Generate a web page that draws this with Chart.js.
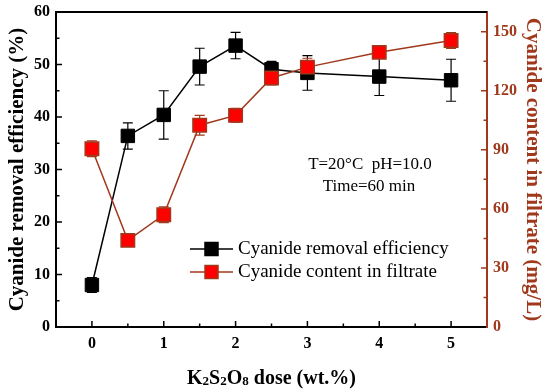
<!DOCTYPE html>
<html>
<head>
<meta charset="utf-8">
<script src="https://cdn.jsdelivr.net/npm/chart.js@4.4.0/dist/chart.umd.min.js"></script>
<style>
  html, body { margin: 0; padding: 0; background: #fff; }
  #wrap { width: 550px; height: 389px; }
</style>
</head>
<body>
<div id="wrap"><canvas id="chart" width="550" height="389"></canvas></div>
<script>
'use strict';

// ── data ──
const doses = [0, 0.5, 1, 1.5, 2, 2.5, 3, 4, 5];
const removal = [8.0, 36.4, 40.4, 49.6, 53.6, 49.1, 48.4, 47.7, 47.0];
const removalErr = [1.4, 2.5, 4.6, 3.5, 2.5, 1.5, 3.3, 3.6, 4.0];
const content = [90.5, 44.0, 57.0, 102.5, 107.5, 126.5, 132.0, 139.5, 145.5];
const contentErr = [4.0, 2.5, 4.0, 5.0, 3.5, 3.5, 4.5, 3.0, 4.0];
const xTicks = [0, 1, 2, 3, 4, 5];
const leftTicks = [0, 10, 20, 30, 40, 50, 60];
const rightTicks = [0, 30, 60, 90, 120, 150];

const BROWN = '#a0381c';
const SERIF = "'Liberation Serif', 'Times New Roman', serif";

const pts = (ys) => doses.map((x, i) => ({ x, y: ys[i] }));

// error bars, drawn behind the markers
const errorBars = {
  id: 'errorBars',
  beforeDatasetsDraw(chart) {
    const ctx = chart.ctx;
    const xs = chart.scales.x;
    const sets = [
      { vals: removal, err: removalErr, scale: chart.scales.y, color: '#000' },
      { vals: content, err: contentErr, scale: chart.scales.y1, color: BROWN }
    ];
    ctx.save();
    ctx.lineWidth = 1.2;
    sets.forEach(s => {
      ctx.strokeStyle = s.color;
      doses.forEach((d, i) => {
        const px = xs.getPixelForValue(d);
        const top = s.scale.getPixelForValue(s.vals[i] + s.err[i]);
        const bot = s.scale.getPixelForValue(s.vals[i] - s.err[i]);
        ctx.beginPath();
        ctx.moveTo(px, top); ctx.lineTo(px, bot);
        ctx.moveTo(px - 5, top); ctx.lineTo(px + 5, top);
        ctx.moveTo(px - 5, bot); ctx.lineTo(px + 5, bot);
        ctx.stroke();
      });
    });
    ctx.restore();
  }
};

// inward ticks, top frame line, legend, notes and x title
const decor = {
  id: 'decor',
  afterDraw(chart) {
    const ctx = chart.ctx;
    const a = chart.chartArea;
    const xs = chart.scales.x, yl = chart.scales.y, yr = chart.scales.y1;
    ctx.save();

    // top frame
    ctx.strokeStyle = '#000';
    ctx.lineWidth = 2;
    ctx.beginPath(); ctx.moveTo(a.left, a.top); ctx.lineTo(a.right, a.top); ctx.stroke();
    ctx.lineWidth = 1.5;

    ctx.beginPath();
    for (let v = 0; v <= 5.0001; v += 0.5) {
      const px = xs.getPixelForValue(v);
      const len = Number.isInteger(v) ? 6 : 3.5;
      ctx.moveTo(px, a.bottom); ctx.lineTo(px, a.bottom - len);
    }
    for (let v = 5; v < 60; v += 5) {
      const py = yl.getPixelForValue(v);
      const len = v % 10 === 0 ? 6 : 3.5;
      ctx.moveTo(a.left, py); ctx.lineTo(a.left + len, py);
    }
    ctx.stroke();

    ctx.strokeStyle = BROWN;
    ctx.beginPath();
    for (let v = 15; v <= 150; v += 15) {
      const py = yr.getPixelForValue(v);
      const len = v % 30 === 0 ? 6 : 3.5;
      ctx.moveTo(a.right, py); ctx.lineTo(a.right - len, py);
    }
    ctx.stroke();

    // legend
    const items = [
      { label: 'Cyanide removal efficiency', line: '#000', fill: '#000', edge: '#000', y: 249 },
      { label: 'Cyanide content in filtrate', line: BROWN, fill: '#ff0000', edge: BROWN, y: 272 }
    ];
    items.forEach(it => {
      ctx.strokeStyle = it.line;
      ctx.lineWidth = 1.5;
      ctx.beginPath(); ctx.moveTo(190, it.y); ctx.lineTo(233, it.y); ctx.stroke();
      ctx.fillStyle = it.fill;
      ctx.fillRect(205, it.y - 6.5, 13, 13);
      ctx.strokeStyle = it.edge;
      ctx.strokeRect(205, it.y - 6.5, 13, 13);
      ctx.fillStyle = '#000';
      ctx.font = `19px ${SERIF}`;
      ctx.textBaseline = 'middle';
      ctx.textAlign = 'left';
      ctx.fillText(it.label, 238, it.y);
    });

    // conditions
    ctx.font = `17px ${SERIF}`;
    ctx.textAlign = 'center';
    ctx.fillText('T=20\u00B0C  pH=10.0', 370, 165);
    ctx.fillText('Time=60 min', 369, 187);

    // x title with subscripts
    const parts = [['K', 0], ['2', 1], ['S', 0], ['2', 1], ['O', 0], ['8', 1], [' dose (wt.%)', 0]];
    const big = `bold 20px ${SERIF}`, small = `bold 13px ${SERIF}`;
    let w = 0;
    parts.forEach(([t, s]) => { ctx.font = s ? small : big; w += ctx.measureText(t).width; });
    let cx = (a.left + a.right) / 2 - w / 2;
    ctx.textAlign = 'left';
    ctx.textBaseline = 'alphabetic';
    parts.forEach(([t, s]) => {
      ctx.font = s ? small : big;
      ctx.fillText(t, cx, s ? 385 : 384);
      cx += ctx.measureText(t).width;
    });
    ctx.restore();
  }
};

const fitY = (w) => (s) => { s.width = w; s.paddingTop = 0; s.paddingBottom = 0; };

new Chart(document.getElementById('chart'), {
  type: 'line',
  data: {
    datasets: [
      {
        label: 'Cyanide removal efficiency',
        data: pts(removal),
        yAxisID: 'y',
        borderColor: '#000',
        borderWidth: 1.5,
        pointStyle: 'rect',
        pointRadius: 9.5,
        pointBackgroundColor: '#000',
        pointBorderColor: '#000',
        pointBorderWidth: 1,
        order: 2
      },
      {
        label: 'Cyanide content in filtrate',
        data: pts(content),
        yAxisID: 'y1',
        borderColor: BROWN,
        borderWidth: 1.5,
        pointStyle: 'rect',
        pointRadius: 9.5,
        pointBackgroundColor: '#ff0000',
        pointBorderColor: BROWN,
        pointBorderWidth: 1.5,
        order: 1
      }
    ]
  },
  options: {
    responsive: false,
    animation: false,
    layout: { padding: { top: 12, left: 0, right: 0, bottom: 0 } },
    plugins: { legend: { display: false }, tooltip: { enabled: false } },
    scales: {
      x: {
        type: 'linear', min: -0.5, max: 5.5,
        afterBuildTicks: (s) => { s.ticks = xTicks.map(v => ({ value: v })); },
        afterFit: (s) => { s.height = 62; s.paddingLeft = 0; s.paddingRight = 0; },
        grid: { display: false, drawTicks: false },
        border: { display: true, color: '#000', width: 2 },
        ticks: { padding: 7, color: '#000', font: { family: SERIF, size: 16, weight: 'bold' } }
      },
      y: {
        position: 'left', min: 0, max: 60,
        afterBuildTicks: (s) => { s.ticks = leftTicks.map(v => ({ value: v })); },
        afterFit: fitY(56),
        grid: { display: false, drawTicks: false },
        border: { display: true, color: '#000', width: 2 },
        ticks: { padding: 6, color: '#000', font: { family: SERIF, size: 16, weight: 'bold' } },
        title: { display: true, text: 'Cyanide removal efficiency (%)', color: '#000', padding: { top: 5, bottom: 0 },
                 font: { family: SERIF, size: 21, weight: 'bold' } }
      },
      y1: {
        position: 'right', min: 0, max: 160,
        afterBuildTicks: (s) => { s.ticks = rightTicks.map(v => ({ value: v })); },
        afterFit: fitY(63),
        grid: { display: false, drawTicks: false },
        border: { display: true, color: BROWN, width: 2 },
        ticks: { padding: 6, color: BROWN, font: { family: SERIF, size: 16, weight: 'bold' } },
        title: { display: true, text: 'Cyanide content in filtrate (mg/L)', color: BROWN, padding: { top: 5, bottom: 0 },
                 font: { family: SERIF, size: 21, weight: 'bold' } }
      }
    }
  },
  plugins: [errorBars, decor]
});
</script>
</body>
</html>
